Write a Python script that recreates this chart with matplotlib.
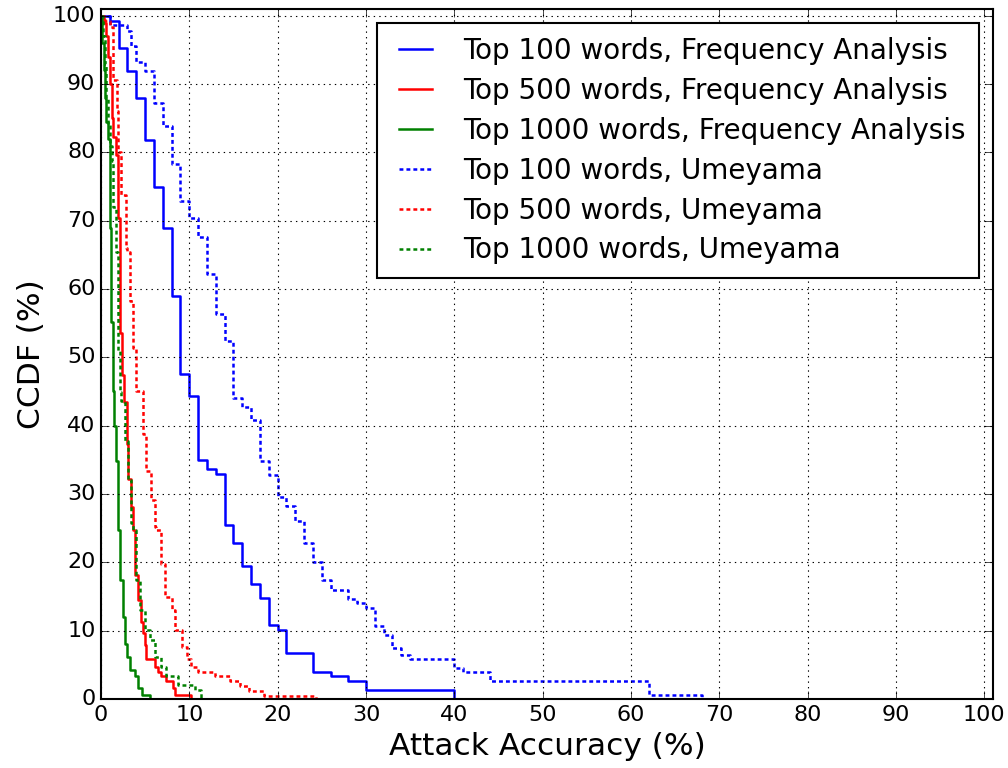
import matplotlib
matplotlib.use("Agg")
import matplotlib.pyplot as plt

# ---- data (step points: x, CCDF value from x onwards) ----
fa100_x = [0, 1, 2, 3, 4, 5, 6, 7, 8, 9, 10, 11, 12, 13, 14, 15, 16, 17, 18, 19, 20, 21, 24, 26, 28, 30, 40]
fa100_y = [100, 99.3, 95.3, 91.9, 88.0, 81.8, 75.0, 69.0, 59.0, 47.6, 44.3, 35.0, 33.6, 32.9, 25.5, 22.8,
           19.5, 16.8, 14.8, 10.8, 10.1, 6.7, 4.0, 3.4, 2.7, 1.3, 0]

fa500_x = [0, 0.3, 0.6, 0.8, 1.0, 1.2, 1.4, 1.66, 1.88, 2.14, 2.33, 2.6, 2.9, 3.1, 3.4, 3.6, 3.8, 4.2, 4.5,
           4.8, 4.96, 5.15, 6.1, 6.5, 6.8, 7.4, 8.2, 8.4, 10.2]
fa500_y = [100, 99.0, 97.0, 94.0, 90.0, 85.0, 82.3, 79.7, 70.4, 53.6, 47.5, 43.5, 37.3, 32.2, 28.1, 24.8,
           18.1, 14.5, 11.3, 9.6, 7.9, 5.9, 4.7, 4.0, 3.3, 2.7, 1.6, 0.6, 0]

fa1000_x = [0, 0.15, 0.3, 0.45, 0.6, 0.82, 1.0, 1.13, 1.32, 1.5, 1.66, 1.88, 1.95, 2.14, 2.5, 2.7, 2.97,
            3.3, 3.8, 4.2, 4.6, 5.5]
fa1000_y = [100, 96.0, 92.0, 88.0, 84.5, 81.9, 69.0, 55.2, 45.1, 40.0, 34.9, 25.2, 24.7, 17.4, 12.0, 8.1,
            6.2, 4.2, 3.3, 1.6, 0.6, 0]

um100_x = [0, 1, 3, 3.4, 4, 5, 6, 7, 8, 9, 10, 11, 12, 13, 14, 15, 16, 17, 18, 19, 20, 21, 22, 23, 24,
           25, 26, 28, 29, 30, 31, 32, 33, 34, 35, 40, 41, 44, 62, 68]
um100_y = [100, 98.6, 97.8, 95.6, 93.3, 91.9, 87.2, 83.9, 78.3, 72.9, 70.4, 67.6, 62.2, 56.3, 52.4, 44.1,
           42.8, 40.8, 34.9, 32.8, 29.6, 28.2, 26.1, 22.8, 20.0, 17.4, 16.0, 14.7, 14.0, 13.3, 10.7, 9.3,
           7.4, 6.5, 5.8, 4.6, 3.9, 2.6, 0.6, 0]

um500_x = [0, 0.5, 1.0, 1.4, 1.77, 1.88, 2.3, 2.8, 2.9, 3.3, 3.6, 4.0, 4.8, 5.15, 5.7, 6.1, 6.2, 6.8,
           7.2, 8.0, 8.4, 9.2, 9.7, 10.2, 11.0, 12.9, 14.6, 15.7, 16.8, 18.5, 24.3]
um500_y = [100, 99.3, 98.4, 90.6, 86.0, 80.0, 73.8, 66.0, 65.5, 58.2, 51.4, 45.1, 38.8, 33.4, 29.1, 25.2,
           24.7, 19.8, 14.9, 13.0, 10.1, 7.6, 5.9, 4.7, 4.0, 3.3, 2.6, 1.9, 1.2, 0.5, 0]

um1000_x = [0, 0.2, 0.4, 0.6, 0.8, 1.0, 1.2, 1.39, 1.66, 1.95, 2.14, 2.3, 2.7, 3.1, 3.4, 3.6, 4.0, 4.4,
            5.0, 5.5, 6.1, 6.8, 7.4, 8.7, 10.6, 11.3]
um1000_y = [100, 97.0, 93.0, 88.0, 84.0, 81.0, 78.7, 72.0, 65.5, 50.9, 45.0, 43.6, 37.8, 32.0, 25.7,
            24.7, 17.4, 13.0, 10.1, 8.7, 6.2, 4.7, 3.3, 2.0, 1.3, 0]

labels = ["Top 100 words, Frequency Analysis", "Top 500 words, Frequency Analysis",
          "Top 1000 words, Frequency Analysis", "Top 100 words, Umeyama",
          "Top 500 words, Umeyama", "Top 1000 words, Umeyama"]

plt.style.use("classic")
fig = plt.figure(figsize=(10.08, 7.68), dpi=100)
fig.patch.set_facecolor("white")
ax = fig.add_axes([0.1002, 0.0898, 0.8850, 0.8985])

series = [(fa100_x, fa100_y, "b", "-"), (fa500_x, fa500_y, "r", "-"), (fa1000_x, fa1000_y, "g", "-"),
          (um100_x, um100_y, "b", ":"), (um500_x, um500_y, "r", ":"), (um1000_x, um1000_y, "g", ":")]
for (xs, ys, c, ls), lab in zip(series, labels):
    line, = ax.plot(xs, ys, color=c, lw=1.8, drawstyle="steps-post", label=lab)
    if ls == ":":
        line.set_dashes([2.8, 2.2])

ax.set_xlim(0, 101)
ax.set_ylim(0, 101)
ax.set_xticks(range(0, 101, 10))
ax.set_yticks(range(0, 101, 10))
ax.tick_params(labelsize=16, length=6, direction="in", top=True, right=True)
ax.grid(True, color="black", linestyle=":", linewidth=0.8)
ax.set_xlabel("Attack Accuracy (%)", fontsize=22.5)
ax.set_ylabel("CCDF (%)", fontsize=22.5)
for s in ax.spines.values():
    s.set_linewidth(1.5)

leg = ax.legend(loc="upper right", fontsize=20, handlelength=1.8, handletextpad=0.8,
                borderpad=0.5, labelspacing=0.43, fancybox=False)
leg.get_frame().set_linewidth(1.5)
leg.get_frame().set_edgecolor("black")

fig.savefig("out.png", dpi=100, facecolor="white")
